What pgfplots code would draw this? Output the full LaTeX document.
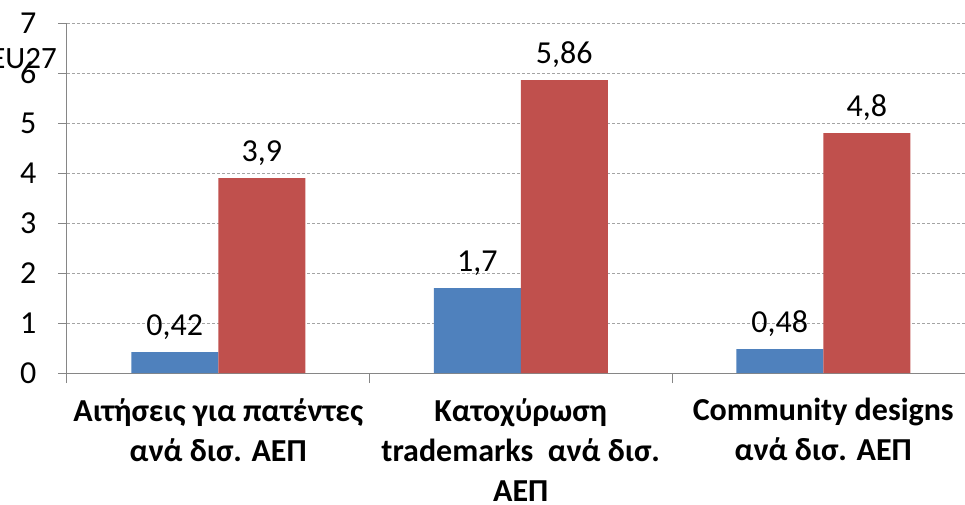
\documentclass[border=0pt]{standalone}
\usepackage{pgfplots}
\pgfplotsset{compat=1.18}
\usepackage{fontspec}
\setmainfont{Carlito}
\definecolor{exblue}{HTML}{4F81BD}
\definecolor{exred}{HTML}{C0504D}
\definecolor{axgray}{HTML}{868686}

\begin{document}
\begin{tikzpicture}
\begin{axis}[
    name=ax,
    scale only axis,
    width=898pt, height=350pt,
    xmin=-0.5, xmax=2.4686,
    ymin=0, ymax=7,
    ybar=0pt, bar width=87pt,
    xtick={0,1,2},
    xticklabels={
      {Αιτήσεις για πατέντες\\ανά δισ. ΑΕΠ},
      {Κατοχύρωση\\trademarks\ \ ανά δισ.\\ΑΕΠ},
      {Community designs\\ανά δισ. ΑΕΠ}
    },
    minor xtick={-0.5,0.5,1.5,2.5},
    ytick={0,1,...,7},
    axis x line*=bottom, axis y line*=left,
    axis line style={-, draw=axgray, line width=1pt},
    tick align=outside,
    major tick length=9pt,
    minor tick length=10pt,
    major x tick style={draw=none},
    every tick/.style={draw=axgray, line width=1pt},
    ymajorgrids,
    grid style={draw=axgray!75, line width=0.9pt, dash pattern=on 3pt off 2pt},
    /pgf/number format/use comma,
    /pgf/number format/assume math mode=true,
    yticklabel style={font=\fontsize{32}{34}\selectfont, text=black, xshift=-18pt},
    xticklabel style={font=\fontsize{32}{40}\selectfont\bfseries, align=center, text=black, yshift=-13pt},
    nodes near coords,
    every node near coord/.append style={font=\fontsize{32}{34}\selectfont, text=black, yshift=9pt},
]
\addplot[fill=exblue, draw=none] coordinates {(0,0.42) (1,1.7) (2,0.48)};
\addplot[fill=exred, draw=none] coordinates {(0,3.9) (1,5.86) (2,4.8)};
\end{axis}
\node[anchor=east, font=\fontsize{31}{33}\selectfont, inner sep=0pt] at ([xshift=-10pt,yshift=-36pt]ax.north west) {EU27};
\pgfresetboundingbox
\path ([xshift=-67pt,yshift=-131pt]ax.south west) rectangle ([yshift=23pt]ax.north east);
\end{tikzpicture}
\end{document}
